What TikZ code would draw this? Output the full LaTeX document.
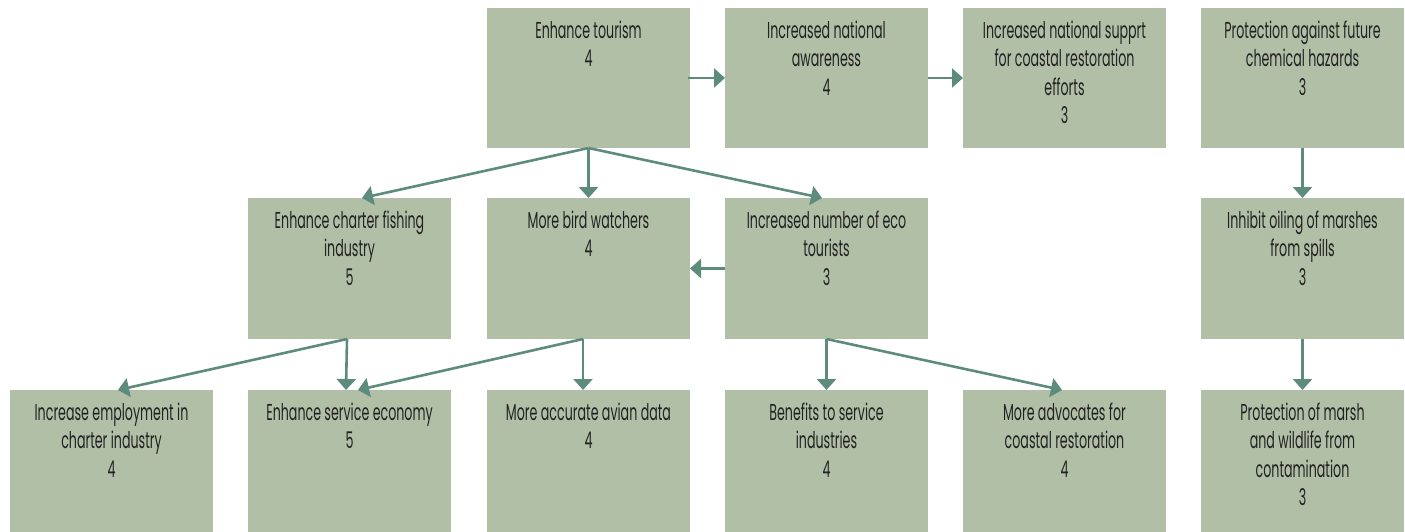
\documentclass[tikz,border=0pt]{standalone}
\usepackage{fontspec}
\setmainfont{Poppins}[FakeStretch=0.55]
\usetikzlibrary{arrows.meta}
\definecolor{boxfill}{HTML}{B2BFA7}
\definecolor{arrowc}{HTML}{5E8C7C}
\definecolor{txt}{HTML}{222222}
\newcommand\mybox[5]{%
  \node[box, minimum height=#5pt] (#1) at (#2,#3) {};
  \node[lbl] (#1t) at ([yshift=-10pt]#1.north) {\strut #4};}
\begin{document}
\begin{tikzpicture}[x=1pt,y=-1pt,
  box/.style={rectangle, fill=boxfill, draw=none, minimum width=203pt, inner sep=0pt, outer sep=0pt},
  lbl/.style={anchor=north, align=center, inner sep=0pt, text=txt, font=\fontsize{23}{28.5}\selectfont},
  conn/.style={draw=arrowc, line width=2.6pt, -{Triangle[width=19pt,length=11pt]}}]
\useasboundingbox (0,0) rectangle (1405,532);
\mybox{tour}{588.5}{78}{Enhance tourism\\4}{140}
\mybox{aware}{826.5}{78}{Increased national\\awareness\\4}{140}
\mybox{supp}{1064.5}{78}{Increased national supprt\\for coastal restoration\\efforts\\3}{140}
\mybox{chem}{1302.5}{78}{Protection against future\\chemical hazards\\3}{140}
\mybox{charter}{349.5}{268.5}{Enhance charter fishing\\industry\\5}{141}
\mybox{birds}{588.5}{268.5}{More bird watchers\\4}{141}
\mybox{eco}{826.5}{268.5}{Increased number of eco\\tourists\\3}{141}
\mybox{oil}{1302.5}{268.5}{Inhibit oiling of marshes\\from spills\\3}{141}
\mybox{emp}{111.5}{461}{Increase employment in\\charter industry\\4}{142}
\mybox{serv}{349.5}{461}{Enhance service economy\\5}{142}
\mybox{avian}{588.5}{461}{More accurate avian data\\4}{142}
\mybox{bene}{826.5}{461}{Benefits to service\\industries\\4}{142}
\mybox{adv}{1064.5}{461}{More advocates for\\coastal restoration\\4}{142}
\mybox{marsh}{1302.5}{461}{Protection of marsh\\and wildlife from\\contamination\\3}{142}
\draw[conn] ([xshift=-2pt]tour.east) -- (aware.west);
\draw[conn] (aware.east) -- (supp.west);
\draw[conn] (tour.south) -- ([xshift=12.5pt]charter.north);
\draw[conn] (tour.south) -- (birds.north);
\draw[conn] (tour.south) -- ([xshift=-4.5pt]eco.north);
\draw[conn] (eco.west) -- (birds.east);
\draw[conn] ([xshift=-2.5pt]charter.south) -- ([xshift=6.5pt]emp.north);
\draw[conn] ([xshift=-2.5pt]charter.south) -- ([xshift=-3.5pt]serv.north);
\draw[conn] ([xshift=-5.5pt]birds.south) -- ([xshift=8.5pt]serv.north);
\draw[conn] ([xshift=-5.5pt]birds.south) -- ([xshift=-5.5pt]avian.north);
\draw[conn] (eco.south) -- (bene.north);
\draw[conn] (eco.south) -- ([xshift=-2.5pt]adv.north);
\draw[conn] (chem.south) -- (oil.north);
\draw[conn] (oil.south) -- (marsh.north);
\end{tikzpicture}
\end{document}
